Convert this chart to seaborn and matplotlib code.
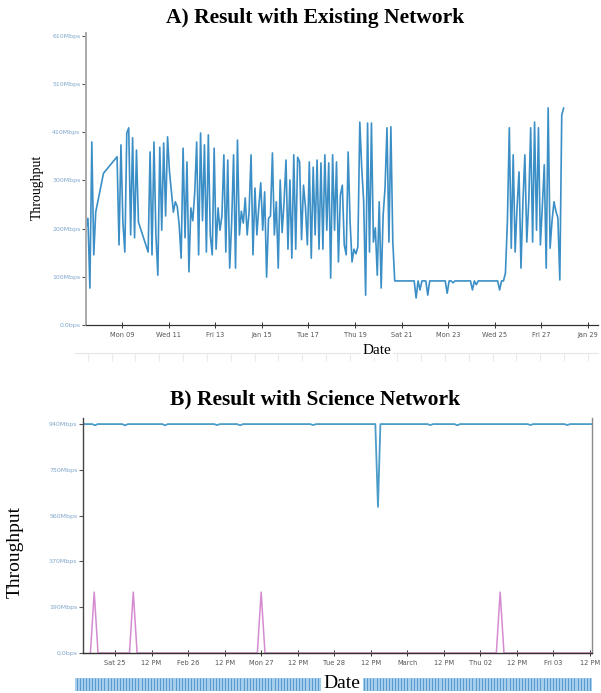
import matplotlib
matplotlib.use("Agg")
import matplotlib.pyplot as plt
import seaborn as sns
import pandas as pd
import numpy as np

# ---- panel A: existing network, 2-hourly samples from 2017-01-07 11:00 (None = no sample)
a_start = "2017-01-07 11:00"
a_mbps = [
    205, 225, 78, 386, 148, 238, None, None, None, 320, None, None, None, None, None, None,
    355, 169, 380, 217, 154, 405, 416, 190, 395, 184, 369, 217, None, None, None, None,
    154, 365, 148, 386, 190, 105, 375, 200, 384, 230, 397, 323, 280, 238, 260, 250,
    210, 141, 373, 184, 344, 112, 247, 220, 280, 386, 148, 405, 220, 380, 154, 401,
    190, 148, 373, 160, 247, 200, 230, 359, 154, 348, 120, 215, 359, 120, 390, 190,
    240, 215, 268, 190, 240, 359, 148, 289, 190, 250, 300, 200, 281, 101, 225, 230,
    363, 190, 260, 120, 306, 195, 260, 348, 160, 306, 141, 359, 160, 354, 344, 180,
    295, 250, 169, 344, 141, 333, 190, 348, 160, 342, 160, 359, 200, 342, 99, 359,
    200, 344, 133, 274, 295, 169, 148, 365, 217, 133, 160, 150, 165, 428, 331, 260,
    63, 426, 154, 426, 175, 205, 105, 260, 78, 230, 290, 416, 175, 418, 175, 93,
    93, None, None, None, None, None, None, None, None, 93, 57, 93, 74, 93, None, 93,
    63, 93, None, None, None, None, None, None, None, 93, 67, 93, 93, 89, 93, None,
    None, None, None, None, None, None, 93, 74, 93, 85, 93, None, None, None, None,
    None, None, None, None, None, 93, 74, 93, 93, 110, 217, 416, 162, 359, 154, 250,
    323, 120, 260, 359, 175, 260, 416, 175, 428, 200, 416, 169, 250, 338, 120, 458,
    162, 220, 260, 240, 226, 95, 443, 458,
]
a_tick_labels = ["Mon 09", "Wed 11", "Fri 13", "Jan 15", "Tue 17", "Thu 19",
                 "Sat 21", "Mon 23", "Wed 25", "Fri 27", "Jan 29"]
a_ytick_labels = ["0.0bps", "100Mbps", "200Mbps", "300Mbps", "410Mbps", "510Mbps", "610Mbps"]

# ---- panel B: science network
b_blue_time = ["2017-02-24 13:30", "2017-02-24 16:30", "2017-02-24 17:25", "2017-02-24 18:20",
               "2017-02-25 02:20", "2017-02-25 03:17", "2017-02-25 04:15",
               "2017-02-25 15:30", "2017-02-25 16:26", "2017-02-25 17:20",
               "2017-02-26 08:30", "2017-02-26 09:32", "2017-02-26 10:30",
               "2017-02-26 16:05", "2017-02-26 17:05", "2017-02-26 18:05",
               "2017-02-27 16:05", "2017-02-27 17:05", "2017-02-27 18:05",
               "2017-02-28 13:30", "2017-02-28 14:22", "2017-02-28 15:10",
               "2017-03-01 06:35", "2017-03-01 07:34", "2017-03-01 08:30",
               "2017-03-01 15:30", "2017-03-01 16:26", "2017-03-01 17:20",
               "2017-03-02 15:30", "2017-03-02 16:26", "2017-03-02 17:20",
               "2017-03-03 03:35", "2017-03-03 04:34", "2017-03-03 05:30",
               "2017-03-03 12:40"]
b_blue_mbps = [940, 940, 935, 940,
               940, 935, 940,
               940, 935, 940,
               940, 936, 940,
               940, 935, 940,
               940, 936, 940,
               940, 600, 940,
               940, 936, 940,
               940, 935, 940,
               940, 936, 940,
               940, 936, 940,
               940]
b_pink_time = ["2017-02-24 15:55", "2017-02-24 17:10", "2017-02-24 18:25",
               "2017-02-25 04:45", "2017-02-25 06:00", "2017-02-25 07:15",
               "2017-02-26 22:45", "2017-02-27 00:00", "2017-02-27 01:15",
               "2017-03-02 05:15", "2017-03-02 06:30", "2017-03-02 07:45",
               "2017-03-03 12:40"]
b_pink_mbps = [0, 250, 0, 0, 250, 0, 0, 250, 0, 0, 250, 0, 0]
b_tick_labels = ["Sat 25", "12 PM", "Feb 26", "12 PM", "Mon 27", "12 PM", "Tue 28",
                 "12 PM", "March", "12 PM", "Thu 02", "12 PM", "Fri 03", "12 PM"]
b_ytick_labels = ["0.0bps", "190Mbps", "370Mbps", "560Mbps", "750Mbps", "940Mbps"]

sns.set_style("white")
plt.rcParams["font.family"] = ["DejaVu Sans"]
serif = ["Liberation Serif", "DejaVu Serif"]

W, H = 601, 693
fig = plt.figure(figsize=(W / 100, H / 100), dpi=100)

def box(l, t, r, b):
    return [l / W, 1 - b / H, (r - l) / W, (b - t) / H]

# ---------------- panel A ----------------
dfa = pd.DataFrame({"time": pd.date_range(a_start, periods=len(a_mbps), freq="2h"),
                    "mbps": pd.to_numeric(pd.Series(a_mbps), errors="coerce")}).dropna()
axA = fig.add_axes(box(86, 33, 598, 325))
sns.lineplot(data=dfa, x="time", y="mbps", ax=axA, color="#3b8fc6", linewidth=1.2,
             estimator=None, sort=True)
axA.set_xlim(pd.Timestamp("2017-01-07 11:00"), pd.Timestamp("2017-01-29 10:20"))
axA.set_ylim(0, 616)
axA.set_yticks(np.linspace(0, 610, len(a_ytick_labels)))
axA.set_yticklabels(a_ytick_labels)
axA.set_xticks(pd.date_range("2017-01-09", periods=len(a_tick_labels), freq="2D"))
axA.set_xticklabels(a_tick_labels)
axA.set_xlabel("")
axA.set_ylabel("")
for s in ["top", "right"]:
    axA.spines[s].set_visible(False)
axA.spines["left"].set_color("#aaaaaa")
axA.spines["left"].set_linewidth(1.4)
axA.spines["bottom"].set_color("#333333")
axA.spines["bottom"].set_linewidth(0.9)
axA.tick_params(axis="y", labelsize=4.5, labelcolor="#7fa6cb", length=3, width=0.8,
                color="#555555", pad=1, left=True)
axA.tick_params(axis="x", labelsize=4.8, labelcolor="#555555", length=4, width=0.7,
                color="#333333", direction="inout", pad=3, bottom=True)

fig.text(315 / W, 1 - 18 / H, "A) Result with Existing Network", ha="center", va="center",
         fontsize=15.5, fontweight="bold", family=serif, color="black")
fig.text(37 / W, 1 - 187 / H, "Throughput", ha="center", va="center", rotation=90,
         fontsize=10, family=serif, color="black")

# faint range strip under A
axAs = fig.add_axes(box(75, 353, 598, 362))
axAs.set_xlim(axA.get_xlim())
axAs.set_xticks(pd.date_range("2017-01-08", periods=22, freq="1D"))
axAs.set_xticklabels([])
axAs.set_yticks([])
for s in ["bottom", "left", "right"]:
    axAs.spines[s].set_visible(False)
axAs.spines["top"].set_color("#e6e6e6")
axAs.tick_params(axis="x", direction="in", length=6, color="#ebebeb", top=True, bottom=False)
fig.text(377 / W, 1 - 350 / H, "Date", ha="center", va="center", fontsize=11, family=serif,
         color="black", bbox=dict(facecolor="white", edgecolor="none", pad=1), zorder=5)

# ---------------- panel B ----------------
dfb1 = pd.DataFrame({"time": pd.to_datetime(b_blue_time), "mbps": b_blue_mbps})
dfb2 = pd.DataFrame({"time": pd.to_datetime(b_pink_time), "mbps": b_pink_mbps})
axB = fig.add_axes(box(83, 418, 592, 653))
sns.lineplot(data=dfb2, x="time", y="mbps", ax=axB, color="#d48bd0", linewidth=1.1,
             estimator=None)
sns.lineplot(data=dfb1, x="time", y="mbps", ax=axB, color="#4b9cc8", linewidth=1.3,
             estimator=None)
axB.set_xlim(pd.Timestamp("2017-02-24 13:29"), pd.Timestamp("2017-03-03 12:40"))
axB.set_ylim(0, 965)
axB.set_yticks(np.linspace(0, 940, len(b_ytick_labels)))
axB.set_yticklabels(b_ytick_labels)
axB.set_xticks(pd.date_range("2017-02-25", periods=len(b_tick_labels), freq="12h"))
axB.set_xticklabels(b_tick_labels)
axB.set_xlabel("")
axB.set_ylabel("")
axB.spines["top"].set_visible(False)
axB.spines["left"].set_color("#444444")
axB.spines["left"].set_linewidth(1.0)
axB.spines["bottom"].set_color("#333333")
axB.spines["bottom"].set_linewidth(1.0)
axB.spines["bottom"].set_zorder(3)
axB.spines["right"].set_color("#8a8a8a")
axB.spines["right"].set_linewidth(1.0)
axB.tick_params(axis="y", labelsize=4.5, labelcolor="#7fa6cb", length=3, width=0.8,
                color="#555555", pad=1, left=True)
axB.tick_params(axis="x", labelsize=4.8, labelcolor="#555555", length=4, width=0.7,
                color="#333333", direction="inout", pad=3, bottom=True)

fig.text(315 / W, 1 - 399 / H, "B) Result with Science Network", ha="center", va="center",
         fontsize=15.5, fontweight="bold", family=serif, color="black")
fig.text(15 / W, 1 - 552 / H, "Throughput", ha="center", va="center", rotation=90,
         fontsize=14, family=serif, color="black")

# navigator strip under B
axN = fig.add_axes(box(75, 678, 592, 691))
axN.set_facecolor("#a5cdec")
axN.set_xlim(axB.get_xlim())
axN.vlines(pd.date_range("2017-02-24 14:00", "2017-03-03 12:00", freq="1h"), 0, 1,
           color="#5a9ad0", linewidth=0.7)
axN.set_ylim(0, 1)
axN.set_xticks([])
axN.set_yticks([])
for s in axN.spines.values():
    s.set_visible(False)
fig.text(342 / W, 1 - 683 / H, "Date", ha="center", va="center", fontsize=14, family=serif,
         color="black", bbox=dict(facecolor="white", edgecolor="none", pad=2), zorder=5)

fig.savefig("out.png", dpi=100)
